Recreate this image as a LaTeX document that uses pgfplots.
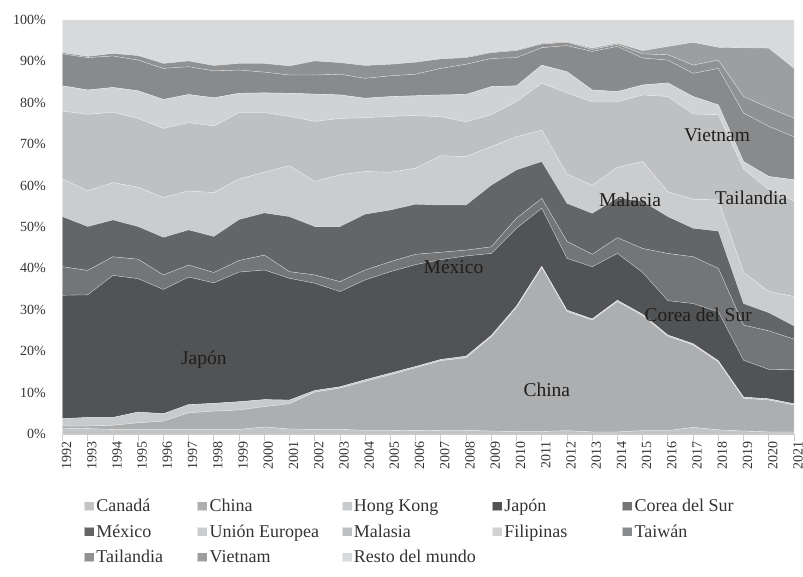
\documentclass[border=0pt]{standalone}
\usepackage{fontspec}
\setmainfont{Liberation Serif}
\usepackage{pgfplots}
\usepackage{pgfplotstable}
\pgfplotsset{compat=1.18}
\definecolor{cCan}{HTML}{C3C4C6}
\definecolor{cChi}{HTML}{ADAEB0}
\definecolor{cHK}{HTML}{C9CACC}
\definecolor{cJap}{HTML}{525355}
\definecolor{cCor}{HTML}{747577}
\definecolor{cMex}{HTML}{646567}
\definecolor{cUE}{HTML}{CBCCCE}
\definecolor{cMal}{HTML}{BFC0C2}
\definecolor{cFil}{HTML}{D1D2D4}
\definecolor{cTw}{HTML}{898A8C}
\definecolor{cTai}{HTML}{909193}
\definecolor{cVie}{HTML}{9D9EA0}
\definecolor{cRes}{HTML}{D8D9DB}
\definecolor{txtc}{HTML}{333333}
\definecolor{lblc}{HTML}{1E1E1E}
\pgfplotstableread{
year can chi hk jap cor mex ue mal fil tw tai vie res
1992 1.4 0.5 1.8 29.8 6.9 12.1 9.1 16.4 6.1 7.7 0.3 0 7.9
1993 1.3 0.6 2.1 29.6 5.9 10.6 8.6 18.5 5.9 7.8 0.3 0 8.8
1994 1.1 1.0 1.9 34.3 4.5 8.9 9.0 17.0 6.0 7.6 0.6 0 8.1
1995 1.1 1.6 2.6 32.2 4.7 7.9 9.5 16.6 6.7 7.4 1.1 0 8.6
1996 1.1 2.0 1.8 30.0 3.5 9.1 9.6 16.7 7.0 7.5 1.2 0 10.5
1997 1.1 4.0 2.0 30.8 2.9 8.5 9.4 16.5 6.8 6.7 1.4 0 9.9
1998 1.1 4.4 1.9 29.1 2.5 8.7 10.6 16.1 6.8 6.5 1.3 0 11.0
1999 1.1 4.7 2.0 31.3 2.8 9.9 9.8 16.0 4.7 5.6 1.6 0 10.5
2000 1.7 4.9 1.7 31.3 3.6 10.2 9.8 14.4 4.8 5.0 2.1 0 10.5
2001 1.2 6.1 0.9 29.4 1.6 13.3 12.3 11.9 5.6 4.4 2.2 0 11.1
2002 1.1 9.0 0.4 25.9 2.0 11.7 10.9 14.5 6.6 4.6 3.4 0 9.9
2003 1.1 10.0 0.3 23.0 2.4 13.3 12.5 13.6 5.7 5.0 2.8 0 10.3
2004 0.9 11.8 0.4 24.1 2.4 13.5 10.3 13.0 4.7 4.8 3.1 0 11.0
2005 0.9 13.4 0.4 24.5 2.4 12.5 9.1 13.5 4.8 5.0 2.8 0 10.7
2006 0.8 15.2 0.3 24.6 2.5 12.1 8.7 12.7 4.8 5.2 2.9 0 10.2
2007 0.9 16.8 0.3 24.1 1.8 11.4 11.9 9.4 5.3 6.4 2.3 0 9.4
2008 0.9 17.5 0.4 24.2 1.4 10.9 11.7 8.4 6.6 7.3 1.6 0.2 8.9
2009 0.7 22.8 0.3 19.8 1.6 14.9 9.3 7.7 6.8 6.8 1.4 0.2 7.7
2010 0.6 30.0 0.3 18.8 2.4 11.7 8.0 8.5 3.8 6.8 1.7 0.2 7.2
2011 0.6 39.6 0.3 14.0 2.4 8.9 7.6 11.3 4.4 4.2 0.9 0.2 5.6
2012 0.8 28.8 0.3 12.5 4.1 9.2 7.1 19.6 5.1 6.3 0.8 0.2 5.2
2013 0.5 27.0 0.3 12.6 3.0 9.9 6.8 20.1 2.9 9.3 0.5 0.3 6.8
2014 0.5 31.5 0.3 11.3 3.8 9.6 7.4 15.8 2.5 10.9 0.5 0.3 5.6
2015 0.8 27.8 0.3 10.1 5.8 11.4 9.6 16.1 2.4 6.5 1.0 0.8 7.4
2016 0.8 22.8 0.3 8.3 11.4 8.9 6.0 23.0 3.3 5.5 1.3 2.0 6.4
2017 1.6 19.9 0.3 9.7 11.3 6.9 7.0 20.6 4.2 5.6 2.0 5.5 5.4
2018 1.0 16.4 0.3 11.8 10.5 9.0 7.5 20.6 2.4 8.8 2.0 3.1 6.6
2019 0.7 7.9 0.3 8.9 8.5 5.2 7.5 25.0 1.8 11.7 4.0 11.8 6.7
2020 0.5 7.7 0.3 7.1 9.3 4.4 5.1 24.6 3.2 12.1 4.5 14.4 6.8
2021 0.5 6.5 0.3 8.2 7.4 3.2 7.1 23.1 5.1 10.4 4.5 12.0 11.7
}\datatable
\newcommand{\legw}[2]{\makebox[#1pt][l]{#2}}
\tikzset{lbl/.style={font=\fontsize{19.5}{22}\selectfont, text=lblc, inner sep=0pt}}
\begin{document}
\begin{tikzpicture}
\path[use as bounding box] (-62.5pt,-143pt) rectangle (740.5pt,434pt);
\begin{axis}[
  scale only axis,
  width=731.5pt, height=414pt,
  xmin=1992, xmax=2021, ymin=0, ymax=100,
  stack plots=y,
  axis x line*=bottom, axis y line*=left,
  y axis line style={draw=none},
  x axis line style={draw=black!20, line width=0.8pt},
  xtick={1992,1993,...,2021},
  ytick={0,10,...,100},
  tick align=outside,
  major tick length=7pt,
  xtick style={draw=black!20, line width=0.8pt},
  ytick style={draw=none},
  /pgf/number format/assume math mode=true,
  /pgf/number format/1000 sep={},
  yticklabel={\pgfmathprintnumber{\tick}\%},
  tick label style={font=\fontsize{14}{16}\selectfont, text=txtc},
  xticklabel style={rotate=90, anchor=east, inner sep=0pt, yshift=-4pt},
  yticklabel style={anchor=east, inner sep=0pt, xshift=-9.5pt},
  legend columns=5,
  legend cell align=left,
  legend image code/.code={\fill[#1] (0pt,-4.5pt) rectangle (10pt,4.5pt);},
  legend style={at={(rel axis cs:0.029,-0.152)}, anchor=north west, draw=none, fill=none,
    inner sep=0pt, row sep=7.5pt, column sep=0pt,
    font=\fontsize{18}{20}\selectfont, text=txtc},
  after end axis/.code={
    \node[lbl] at (axis cs:1997.6,17.9) {Japón};
    \node[lbl] at (axis cs:2007.5,40.3) {México};
    \node[lbl] at (axis cs:2011.2,10.6) {China};
    \node[lbl] at (axis cs:2017.2,28.7) {Corea del Sur};
    \node[lbl] at (axis cs:2014.5,56.5) {Malasia};
    \node[lbl] at (axis cs:2017.95,72.2) {Vietnam};
    \node[lbl] at (axis cs:2019.3,57.0) {Tailandia};
  },
]
\addplot[fill=cCan, draw=white, draw opacity=0.55, line width=0.35pt] table[x=year,y=can]{\datatable} \closedcycle;
\addlegendentry{\legw{99}{Canadá}}
\addplot[fill=cChi, draw=white, draw opacity=0.55, line width=0.35pt] table[x=year,y=chi]{\datatable} \closedcycle;
\addlegendentry{\legw{130}{China}}
\addplot[fill=cHK, draw=white, draw opacity=0.55, line width=0.35pt] table[x=year,y=hk]{\datatable} \closedcycle;
\addlegendentry{\legw{136}{Hong Kong}}
\addplot[fill=cJap, draw=white, draw opacity=0.55, line width=0.35pt] table[x=year,y=jap]{\datatable} \closedcycle;
\addlegendentry{\legw{116}{Japón}}
\addplot[fill=cCor, draw=white, draw opacity=0.55, line width=0.35pt] table[x=year,y=cor]{\datatable} \closedcycle;
\addlegendentry{Corea del Sur}
\addplot[fill=cMex, draw=white, draw opacity=0.55, line width=0.35pt] table[x=year,y=mex]{\datatable} \closedcycle;
\addlegendentry{\legw{99}{México}}
\addplot[fill=cUE, draw=white, draw opacity=0.55, line width=0.35pt] table[x=year,y=ue]{\datatable} \closedcycle;
\addlegendentry{\legw{130}{Unión Europea}}
\addplot[fill=cMal, draw=white, draw opacity=0.55, line width=0.35pt] table[x=year,y=mal]{\datatable} \closedcycle;
\addlegendentry{\legw{136}{Malasia}}
\addplot[fill=cFil, draw=white, draw opacity=0.55, line width=0.35pt] table[x=year,y=fil]{\datatable} \closedcycle;
\addlegendentry{\legw{116}{Filipinas}}
\addplot[fill=cTw, draw=white, draw opacity=0.55, line width=0.35pt] table[x=year,y=tw]{\datatable} \closedcycle;
\addlegendentry{Taiwán}
\addplot[fill=cTai, draw=white, draw opacity=0.55, line width=0.35pt] table[x=year,y=tai]{\datatable} \closedcycle;
\addlegendentry{\legw{99}{Tailandia}}
\addplot[fill=cVie, draw=white, draw opacity=0.55, line width=0.35pt] table[x=year,y=vie]{\datatable} \closedcycle;
\addlegendentry{\legw{130}{Vietnam}}
\addplot[fill=cRes, draw=white, draw opacity=0.55, line width=0.35pt] table[x=year,y=res]{\datatable} \closedcycle;
\addlegendentry{\legw{136}{Resto del mundo}}
\end{axis}
\end{tikzpicture}
\end{document}
